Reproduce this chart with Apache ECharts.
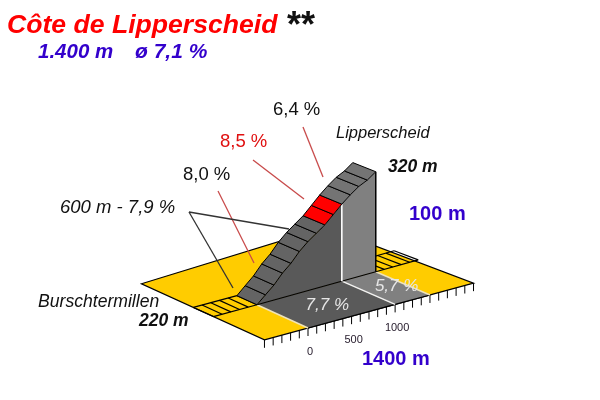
<!DOCTYPE html>
<html><head><meta charset="utf-8">
<style>html,body{margin:0;padding:0;background:#fff}#c{width:600px;height:400px}</style>
<script src="https://cdn.jsdelivr.net/npm/echarts@6/dist/echarts.min.js"></script>
</head><body><div id="c"></div>
<script>
// ---- data ----
var distances  = [0,100,200,300,400,500,600,700,800,900,1000,1100,1200,1300,1400];
var elevations = [220,227.6,235,244.6,252,261.5,269,275,281,289,297,304,310,314,320];
var redSegments = [8,9];
var tickLabels = [0,500,1000];
var floorStart = -500, floorEnd = 1900, baseElevation = 220;
var sectionBreak = 1000;
var sectionGrades = ['7,7 %','5,7 %'];
var approachMarks = [-400,-300,-200,-100,0];
var exitMarks = [1500,1600,1700,1800,1900];

// ---- oblique projection into axis units, with a slight perspective shear ----
var DEPTH_X = -1412, DEPTH_Y = 56, SLOPE_Y = 0.0236, SHEAR = -0.15;
var NEAR = 0.415, FAR = 0.578;
function proj(d, depth, e){ return [d + depth*DEPTH_X + Math.max(d,0)*depth*depth*SHEAR, e + d*SLOPE_Y + depth*DEPTH_Y]; }

function renderScene(params, api){
  function P(d, depth, e){ return api.coord(proj(d, depth, e)); }
  var kids = [];
  function poly(pts, fill, stroke, lw){
    kids.push({type:'polygon', shape:{points:pts}, style:{fill:fill, stroke:stroke||null, lineWidth:lw||1}});
  }
  function line(a, b, stroke, lw){
    kids.push({type:'line', shape:{x1:a[0],y1:a[1],x2:b[0],y2:b[1]}, style:{stroke:stroke, lineWidth:lw||1}});
  }
  var B = baseElevation, last = distances[distances.length-1];
  // floor
  poly([P(floorStart,0,B),P(floorEnd,0,B),P(floorEnd,1,B),P(floorStart,1,B)],'#FFCC00','#000',1.2);
  // ticks on the front edge
  for (var t=floorStart; t<=floorEnd; t+=100){
    line(P(t,0,B),P(t,0,B-8),'#000',1);
  }
  // axis labels
  tickLabels.forEach(function(v){
    var p = P(v,0,B-24);
    kids.push({type:'text', style:{x:p[0]+2,y:p[1],text:String(v),fill:'#2a2030',font:'11px "Liberation Sans"',textAlign:'center',textVerticalAlign:'middle'}});
  });
  // shaded ground in front of the climb
  poly([P(0,0,B),P(sectionBreak,0,B),P(sectionBreak,NEAR,B),P(0,NEAR,B)],'#5a5a5a');
  poly([P(sectionBreak,0,B),P(last,0,B),P(last,NEAR,B),P(sectionBreak,NEAR,B)],'#808080');
  line(P(0,0,B),P(sectionBreak,0,B),'#000',1.2);
  line(P(sectionBreak,0,B),P(last,0,B),'#000',1.2);
  line(P(0,0,B),P(0,NEAR,B),'#efe3b8',1.5);
  line(P(last,0,B),P(last,NEAR,B),'#efe3b8',1.5);
  line(P(sectionBreak,0,B),P(sectionBreak,NEAR,B),'#f2f2f2',1.5);
  // flat strips before and after the climb
  [[floorStart,0,approachMarks],[last,floorEnd,exitMarks]].forEach(function(s){
    line(P(s[0],NEAR,B),P(s[1],NEAR,B),'#000',1.2);
    line(P(s[0],FAR,B),P(s[1],FAR,B),'#000',1.2);
    line(P(s[0],NEAR,B),P(s[0],FAR,B),'#000',1.2);
    s[2].forEach(function(m){ line(P(m,NEAR,B),P(m,FAR,B),'#000',1.2); });
  });
  // side wall
  var wallA=[], wallB=[];
  distances.forEach(function(d,i){
    if (d<=sectionBreak) wallA.push(P(d,NEAR,elevations[i]));
    if (d>=sectionBreak) wallB.push(P(d,NEAR,elevations[i]));
  });
  wallA.push(P(sectionBreak,NEAR,B)); wallA.push(P(0,NEAR,B));
  wallB.push(P(last,NEAR,B)); wallB.push(P(sectionBreak,NEAR,B));
  poly(wallA,'#595959');
  poly(wallB,'#808080');
  line(P(0,NEAR,B),P(last,NEAR,B),'#000',1.2);
  line(P(last,NEAR,elevations[elevations.length-1]),P(last,NEAR,B),'#000',1.5);
  var bi = distances.indexOf(sectionBreak);
  line(P(sectionBreak,NEAR,elevations[bi]),P(sectionBreak,NEAR,B),'#ffffff',1.6);
  // road surface, one cell per section
  for (var i=0;i<distances.length-1;i++){
    var d0=distances[i],d1=distances[i+1],e0=elevations[i],e1=elevations[i+1];
    var fill = redSegments.indexOf(i)>=0 ? '#FF0000' : (i>=9 ? '#747474' : '#646464');
    poly([P(d0,NEAR,e0),P(d1,NEAR,e1),P(d1,FAR,e1),P(d0,FAR,e0)],fill,'#000',1);
  }
  // section grades on the ground
  [[sectionGrades[0],500],[sectionGrades[1],1300]].forEach(function(g){
    var p=P(g[1],NEAR*0.47,B);
    kids.push({type:'text',style:{x:p[0],y:p[1],text:g[0],fill:'#e6e6e6',font:'italic 17px "Liberation Sans"',textAlign:'center',textVerticalAlign:'middle'}});
  });
  return {type:'group',children:kids};
}

function txt(x,y,text,font,fill){ return {type:'text',silent:true,z:100,x:x,y:y,style:{text:text,font:font,fill:fill||'#000',textVerticalAlign:'top'}}; }
function seg(x1,y1,x2,y2,c){ return {type:'line',silent:true,z:100,shape:{x1:x1,y1:y1,x2:x2,y2:y2},style:{stroke:c,lineWidth:1.3}}; }
var LEAD='#c84a4a', DARK='#333';
var BLUE='#3300CC';

var chart = echarts.init(document.getElementById('c'),null,{renderer:'canvas'});
chart.setOption({
  animation:false,
  backgroundColor:'#fff',
  title:{text:'Côte de Lipperscheid',left:7,top:12,padding:0,
    textStyle:{color:'#FF0000',fontStyle:'italic',fontWeight:'bold',fontFamily:'Liberation Sans',fontSize:26.6}},
  grid:{left:0,right:0,top:0,bottom:0},
  xAxis:{type:'value',min:-3536,max:3352,show:false},
  yAxis:{type:'value',min:148,max:548,show:false},
  series:[{type:'custom',coordinateSystem:'cartesian2d',clip:false,silent:true,
    data:[[0,baseElevation]],renderItem:renderScene}],
  graphic:{elements:[
    txt(287,9,'**','bold 36px "Liberation Sans"','#111'),
    txt(38,42,'1.400 m','italic bold 20.5px "Liberation Sans"',BLUE),
    txt(135,42,'ø 7,1 %','italic bold 21px "Liberation Sans"',BLUE),
    txt(273,100,'6,4 %','18.5px "Liberation Sans"','#111'),
    txt(220,132,'8,5 %','18.5px "Liberation Sans"','#e01010'),
    txt(183,165,'8,0 %','18.5px "Liberation Sans"','#111'),
    txt(60,198,'600 m - 7,9 %','italic 18.5px "Liberation Sans"','#111'),
    txt(336,125,'Lipperscheid','italic 16.5px "Liberation Sans"','#111'),
    txt(388,158,'320 m','italic bold 17.5px "Liberation Sans"','#111'),
    txt(409,204,'100 m','bold 20px "Liberation Sans"',BLUE),
    txt(38,293,'Burschtermillen','italic 17.6px "Liberation Sans"','#111'),
    txt(139,312,'220 m','italic bold 17.5px "Liberation Sans"','#111'),
    txt(362,349,'1400 m','bold 20px "Liberation Sans"',BLUE),
    seg(303,127,323,177,LEAD),
    seg(253,160,304,199,LEAD),
    seg(218,191,254,263,LEAD),
    seg(189,212,289,229,DARK),
    seg(189,212,233,288,DARK)
  ]}
});
</script></body></html>
